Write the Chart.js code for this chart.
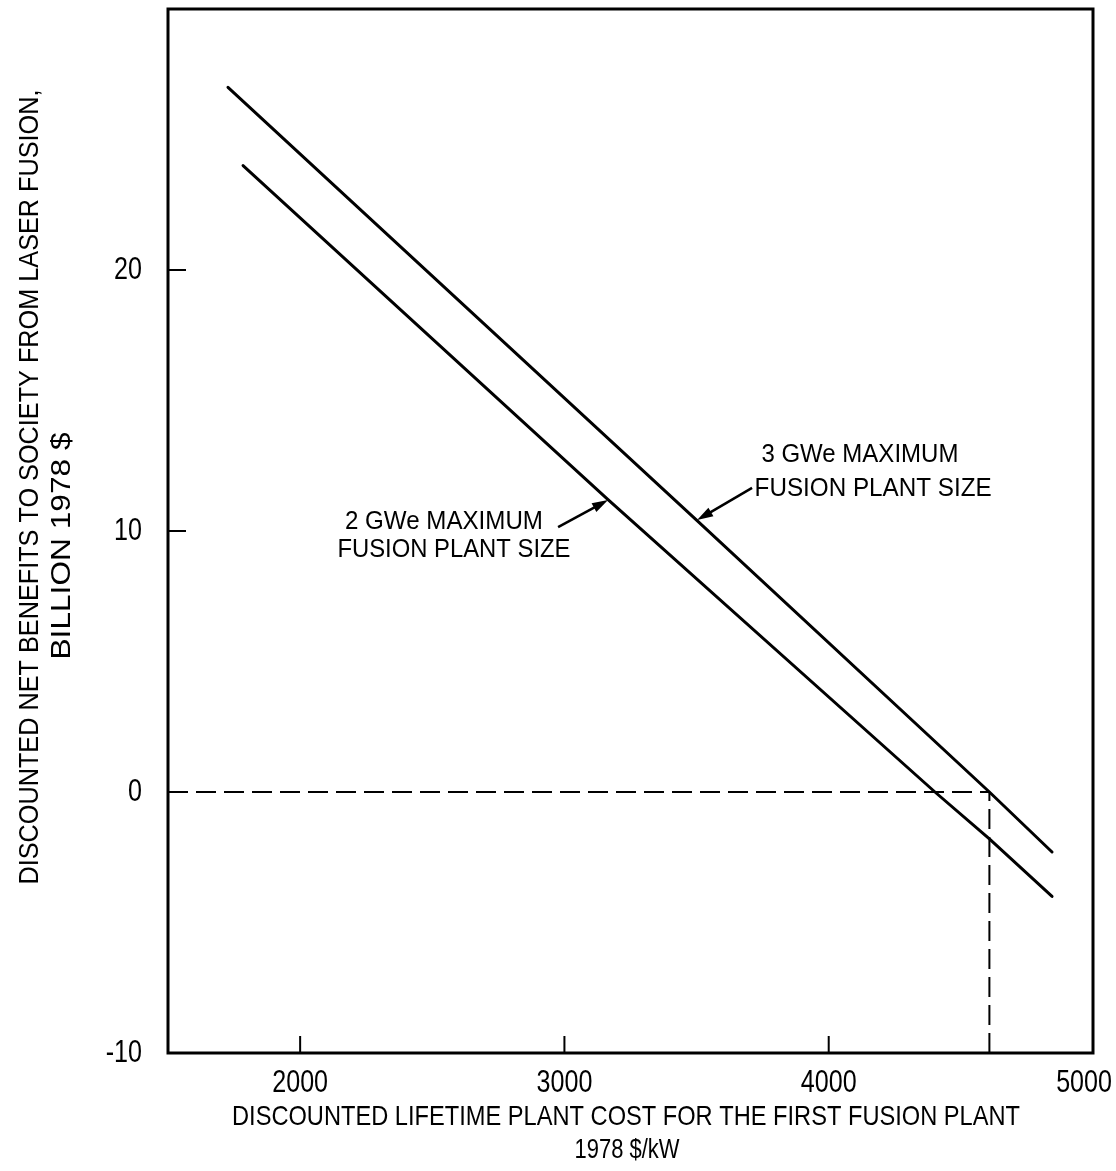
<!DOCTYPE html>
<html>
<head>
<meta charset="utf-8">
<script src="https://cdn.jsdelivr.net/npm/chart.js@4/dist/chart.umd.min.js"></script>
<style>
  html, body { margin: 0; padding: 0; background: #fff; }
</style>
</head>
<body>
<canvas id="benefitChart" width="1116" height="1171"></canvas>
<script>
const xTicks = [2000, 3000, 4000, 5000];
const yTicks = [-10, 0, 10, 20];

// plant cost ($/kW) vs discounted net benefit (billion 1978 $)
const cost3GWe = [1727, 3502, 4608, 4845];
const benefit3GWe = [27.0, 10.4, 0, -2.3];
const cost2GWe = [1784, 3165, 4402, 4608, 4845];
const benefit2GWe = [24.0, 11.2, 0, -1.8, -4.0];

// break-even point of the 3 GWe case
const breakEvenCost = 4608;
const breakEvenBenefit = 0;

const label3GWe = ["3 GWe MAXIMUM", "FUSION PLANT SIZE"];
const label2GWe = ["2 GWe MAXIMUM", "FUSION PLANT SIZE"];
const xTitle = ["DISCOUNTED LIFETIME PLANT COST FOR THE FIRST FUSION PLANT", "1978 $/kW"];
const yTitle = ["DISCOUNTED NET BENEFITS TO SOCIETY FROM LASER FUSION,", "BILLION 1978 $"];

const X_MIN = 1500, X_MAX = 5000, Y_MIN = -10, Y_MAX = 30;
const FONT = '"Liberation Sans", Arial, sans-serif';

// callout text (data coords of each line centre) and arrows (tail -> tip)
const callouts = [
  { lines: label2GWe, at: [[2544, 10.34], [2582, 9.27]], widths: [198, 233],
    arrow: { from: [2976, 10.15], to: [3165, 11.19] } },
  { lines: label3GWe, at: [[4118, 12.91], [4168, 11.61]], widths: [197, 237],
    arrow: { from: [3710, 11.65], to: [3502, 10.42] } },
];

function toXY(xs, ys) {
  return xs.map((x, i) => ({ x: x, y: ys[i] }));
}

// condensed text: either squeezed to a target width or by a fixed factor
function drawText(ctx, text, x, y, opts) {
  ctx.save();
  ctx.font = opts.size + "px " + FONT;
  ctx.textAlign = opts.align || "center";
  ctx.textBaseline = "middle";
  ctx.fillStyle = "#000";
  const w = ctx.measureText(text).width;
  const sx = opts.width ? opts.width / w : (opts.sx || 1);
  // keep a centred label inside the canvas
  if (opts.maxRight && ctx.textAlign === "center") x = Math.min(x, opts.maxRight - w * sx / 2);
  ctx.translate(x, y);
  if (opts.angle) ctx.rotate(opts.angle);
  ctx.scale(sx, 1);
  ctx.fillText(text, 0, 0);
  ctx.restore();
}

const framePlugin = {
  id: "frame",
  afterDraw(chart) {
    const { ctx, chartArea: a, scales } = chart;
    const xs = scales.x, ys = scales.y;

    ctx.save();
    ctx.strokeStyle = "#000";
    ctx.lineWidth = 3;
    ctx.strokeRect(a.left, a.top, a.right - a.left, a.bottom - a.top);

    // inward tick marks, skipping the ones that fall on the frame
    ctx.lineWidth = 2;
    ctx.beginPath();
    xs.ticks.forEach((t) => {
      if (t.value <= X_MIN || t.value >= X_MAX) return;
      const px = xs.getPixelForValue(t.value);
      ctx.moveTo(px, a.bottom);
      ctx.lineTo(px, a.bottom - 17);
    });
    ys.ticks.forEach((t) => {
      if (t.value <= Y_MIN || t.value >= Y_MAX) return;
      const py = ys.getPixelForValue(t.value);
      ctx.moveTo(a.left, py);
      ctx.lineTo(a.left + 18, py);
    });
    ctx.stroke();

    // tick labels
    xs.ticks.forEach((t) => {
      drawText(ctx, String(t.value), xs.getPixelForValue(t.value), a.bottom + 30,
        { size: 31, sx: 0.81, maxRight: chart.width - 4 });
    });
    ys.ticks.forEach((t) => {
      drawText(ctx, String(t.value), a.left - 26, ys.getPixelForValue(t.value),
        { size: 31, sx: 0.81, align: "right" });
    });

    // callouts with arrows
    callouts.forEach((c) => {
      c.lines.forEach((t, i) => {
        drawText(ctx, t, xs.getPixelForValue(c.at[i][0]), ys.getPixelForValue(c.at[i][1]), { size: 25, width: c.widths[i] });
      });
      const x0 = xs.getPixelForValue(c.arrow.from[0]), y0 = ys.getPixelForValue(c.arrow.from[1]);
      const x1 = xs.getPixelForValue(c.arrow.to[0]), y1 = ys.getPixelForValue(c.arrow.to[1]);
      const ang = Math.atan2(y1 - y0, x1 - x0);
      const head = 16, half = 5;
      ctx.lineWidth = 2.5;
      ctx.beginPath();
      ctx.moveTo(x0, y0);
      ctx.lineTo(x1 - Math.cos(ang) * head * 0.8, y1 - Math.sin(ang) * head * 0.8);
      ctx.stroke();
      ctx.beginPath();
      ctx.moveTo(x1, y1);
      ctx.lineTo(x1 - Math.cos(ang) * head - Math.sin(ang) * half, y1 - Math.sin(ang) * head + Math.cos(ang) * half);
      ctx.lineTo(x1 - Math.cos(ang) * head + Math.sin(ang) * half, y1 - Math.sin(ang) * head - Math.cos(ang) * half);
      ctx.closePath();
      ctx.fillStyle = "#000";
      ctx.fill();
    });

    // axis titles
    drawText(ctx, xTitle[0], 626, 1117, { size: 28, width: 788 });
    drawText(ctx, xTitle[1], 627, 1150, { size: 28, width: 105 });
    drawText(ctx, yTitle[0], 30, 487, { size: 28, width: 795, angle: -Math.PI / 2 });
    drawText(ctx, yTitle[1], 62, 546, { size: 28, width: 227, angle: -Math.PI / 2 });
    ctx.restore();
  },
};

const solid = { borderColor: "#000", borderWidth: 3, pointRadius: 0, showLine: true, fill: false, borderCapStyle: "round" };
const dashed = { borderColor: "#000", borderWidth: 2, pointRadius: 0, showLine: true, fill: false, borderDash: [20, 8] };

// keep the plot frame where it is: no extra room for edge labels
function fixBox(width, height) {
  return (s) => {
    if (width) s.width = width;
    if (height) s.height = height;
    s.paddingLeft = s.paddingRight = s.paddingTop = s.paddingBottom = 0;
  };
}

new Chart(document.getElementById("benefitChart"), {
  type: "scatter",
  data: {
    datasets: [
      { ...solid, label: "3 GWe", data: toXY(cost3GWe, benefit3GWe) },
      { ...solid, label: "2 GWe", data: toXY(cost2GWe, benefit2GWe) },
      { ...dashed, label: "zero benefit", data: toXY([X_MIN, breakEvenCost], [breakEvenBenefit, breakEvenBenefit]) },
      { ...dashed, label: "break-even cost", data: toXY([breakEvenCost, breakEvenCost], [Y_MIN, breakEvenBenefit]) },
    ],
  },
  options: {
    responsive: false,
    animation: false,
    layout: { padding: { top: 9, right: 23, left: 0, bottom: 0 } },
    plugins: { legend: { display: false }, tooltip: { enabled: false } },
    scales: {
      x: {
        type: "linear",
        min: X_MIN,
        max: X_MAX,
        grid: { display: false, drawTicks: false },
        border: { display: false },
        ticks: { display: false },
        afterBuildTicks: (s) => { s.ticks = xTicks.map((v) => ({ value: v })); },
        afterFit: fixBox(0, 118),
      },
      y: {
        type: "linear",
        min: Y_MIN,
        max: Y_MAX,
        grid: { display: false, drawTicks: false },
        border: { display: false },
        ticks: { display: false },
        afterBuildTicks: (s) => { s.ticks = yTicks.map((v) => ({ value: v })); },
        afterFit: fixBox(168, 0),
      },
    },
  },
  plugins: [framePlugin],
});
</script>
</body>
</html>
